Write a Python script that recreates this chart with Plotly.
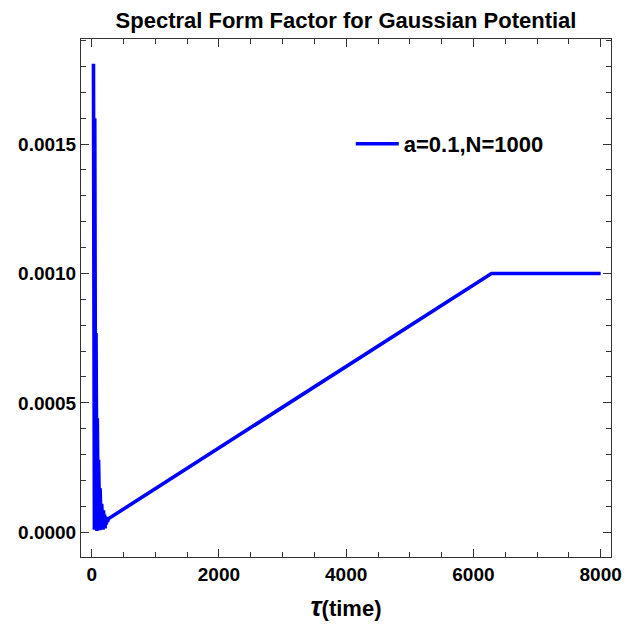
import plotly.graph_objects as go

# time values (tau) and spectral form factor values
tau = [28, 33, 38, 43, 48, 53, 58, 63, 68, 73, 78, 83, 88, 93, 98, 103, 108,
       114, 120, 126, 132, 138, 144, 150, 157, 164, 171, 178, 186, 194, 202,
       210, 220, 230, 240, 250, 261, 6283, 8000]
sff = [0.00181, 0.00002, 0.00181, 0.00001, 0.00160, 0.00002, 0.00160, 0.00001,
       0.00077, 0.00002, 0.00077, 0.000005, 0.00044, 0.00002, 0.00036, 0.00001,
       0.00028, 0.00002, 0.00022, 0.000008, 0.00017, 0.00002, 0.00014, 0.00001,
       0.00011, 0.00002, 0.000095, 0.00001, 0.000085, 0.00002, 0.000068, 0.000015,
       0.00006, 0.00003, 0.000056, 0.00004, 0.000052, 0.001, 0.001]

series_name = "a=0.1,N=1000"
x_ticks = [0, 2000, 4000, 6000, 8000]
y_ticks = [0.0, 0.0005, 0.0010, 0.0015]

FONT = "Liberation Sans, Arial, sans-serif"
W, H = 635, 632

fig = go.Figure()
fig.add_trace(go.Scatter(x=tau, y=sff, mode="lines", name=series_name,
                         line=dict(color="#0000ff", width=3.6)))

axis_common = dict(
    showline=True, linecolor="#333333", linewidth=1, mirror="allticks",
    ticks="inside", ticklen=8, tickcolor="#333333", tickwidth=1,
    showgrid=False, zeroline=False,
    tickfont=dict(family=FONT, size=19, color="black", weight="bold"),
)

fig.update_layout(
    width=W, height=H,
    margin=dict(l=81, r=24, t=39, b=75),
    paper_bgcolor="white", plot_bgcolor="white",
    title=dict(text="<b>Spectral Form Factor for Gaussian Potential</b>",
               x=346 / W, xanchor="center", y=1 - 20 / H, yanchor="middle",
               font=dict(family=FONT, size=22, color="black")),
    xaxis=dict(range=[-168, 8162], tickvals=x_ticks,
               ticktext=[str(v) for v in x_ticks],
               minor=dict(dtick=500, ticks="inside", ticklen=5,
                          tickcolor="#333333", showgrid=False),
               title=dict(text="<b><span style='font-size:27px'><i>τ</i></span>(time)</b>",
                          font=dict(family=FONT, size=22, color="black"),
                          standoff=16),
               **axis_common),
    yaxis=dict(range=[-0.0000955, 0.0019057], tickvals=y_ticks,
               ticktext=[f"{v:.4f}" for v in y_ticks],
               minor=dict(dtick=0.0001, ticks="inside", ticklen=5,
                          tickcolor="#333333", showgrid=False),
               **axis_common),
    showlegend=True,
    legend=dict(x=0.509, xanchor="left", y=1 - (144 - 39) / 518, yanchor="middle",
                bgcolor="rgba(0,0,0,0)", itemwidth=43,
                font=dict(family=FONT, size=22, color="black", weight="bold")),
)

fig.write_html("out.html",
               config={"displayModeBar": False},
               post_script="document.body.style.margin='0px';"
                           "document.body.style.overflow='hidden';")
